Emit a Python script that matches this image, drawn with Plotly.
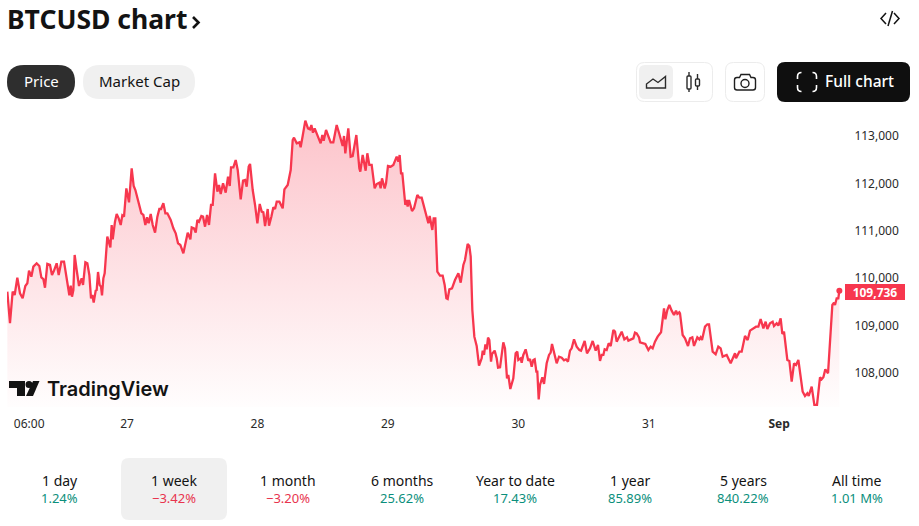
import plotly.graph_objects as go

# Hours since 26 Aug 00:00 and BTCUSD closing prices.
hours = [1.98,2.47,2.96,3.33,3.82,4.31,4.80,5.29,5.66,5.97,6.40,6.77,7.38,7.87,8.24,8.61,8.91,9.34,9.83,10.20,10.57,11.06,11.43,11.92,12.41,12.90,13.39,13.64,13.88,14.13,14.37,14.74,15.17,15.66,15.91,16.34,16.70,17.07,17.38,17.62,17.87,18.24,18.42,18.67,18.97,19.22,19.40,19.65,19.89,20.38,20.75,20.94,21.18,21.37,21.79,22.10,22.47,22.84,23.14,23.45,23.88,24.37,24.86,25.23,25.54,25.90,26.27,26.64,27.01,27.38,27.68,27.99,28.36,28.73,29.16,29.59,29.95,30.26,30.69,31.06,31.43,32.04,32.53,32.96,33.39,33.82,34.37,34.80,35.17,35.66,35.90,36.33,36.64,36.95,37.25,37.68,37.99,38.36,38.73,39.09,39.46,39.77,40.20,40.63,40.93,41.24,41.67,42.16,42.59,42.90,43.14,43.57,44.00,44.37,44.92,45.35,45.72,46.02,46.39,46.64,47.13,47.56,47.99,48.42,48.78,49.09,49.40,49.89,50.13,50.56,50.93,51.24,51.55,52.04,52.65,52.96,53.57,54.12,54.49,54.73,55.23,55.72,
         55.95,56.32,56.81,57.30,57.67,57.92,58.22,58.53,59.20,59.63,59.94,60.19,60.62,61.11,61.47,61.96,62.58,63.07,63.68,63.93,64.17,64.72,65.15,65.52,65.95,66.20,66.75,66.93,67.36,67.91,68.22,68.59,69.02,69.57,69.94,70.43,70.67,70.92,71.41,71.66,72.02,72.51,73.01,73.62,73.93,74.17,74.42,74.66,75.21,75.46,75.64,75.89,76.44,76.81,77.42,77.79,78.22,78.65,79.02,79.45,79.69,80.18,80.43,80.73,81.10,81.59,82.08,82.45,82.76,83.00,83.31,83.80,84.35,84.97,85.40,85.89,86.19,86.68,86.99,87.24,87.54,87.91,88.34,88.77,89.26,89.45,89.69,89.94,90.18,90.43,90.67,90.98,91.16,91.65,92.02,92.27,92.64,
         93.24,93.55,93.92,94.16,94.53,95.08,95.51,95.82,96.00,96.43,96.62,96.92,97.35,97.84,98.15,98.46,98.76,99.01,99.32,99.50,99.75,99.99,100.42,100.73,101.22,101.65,101.95,102.20,102.57,103.06,103.49,103.98,104.41,104.78,105.14,105.51,105.82,106.25,106.74,107.23,107.54,108.21,108.64,109.19,109.68,110.24,110.66,111.03,111.34,111.65,111.89,112.26,112.63,113.00,113.49,113.79,114.10,114.53,115.02,115.51,116.00,116.25,117.17,117.47,117.78,118.21,118.39,119.01,119.37,119.93,120.36,120.72,121.15,121.64,122.26,122.81,123.06,123.42,123.79,124.22,124.65,125.02,125.26,125.63,
         125.75,126.24,126.67,127.22,127.59,128.02,128.33,128.94,129.31,129.55,129.80,130.35,130.78,131.09,131.76,132.31,132.80,133.23,133.60,134.34,135.07,135.87,136.06,136.67,137.10,137.71,138.20,138.63,139.12,139.74,140.17,140.59,141.09,141.51,141.82,142.31,142.80,143.05,143.54,143.85,144.27,144.58,144.89,145.50,145.87,146.30,146.73,147.10,147.53,148.32,148.75,149.18,149.43,149.98,150.47,150.96,151.51,151.82,152.13,152.49,152.99,153.78,154.09,154.27,154.58,154.88,155.07]

prices = [109716,109050,109716,109646,110011,109681,109575,109836,109892,110159,110032,110243,110314,110258,110018,109983,109800,110300,110279,110068,110159,110314,110068,110349,110349,110032,109639,109843,109610,109751,110490,110173,109836,109997,109857,110335,110314,110068,109575,109646,109484,109737,109751,110131,109857,109822,109639,109997,110103,110876,110736,110651,111123,110820,111193,111355,111263,111123,111327,111298,111896,111601,112318,111945,111861,111706,111580,111369,111334,111123,111284,111158,111355,111123,110961,111298,111460,111460,111580,111369,111369,111228,111052,110947,110736,110701,110525,110771,110961,110820,111073,111052,110961,111228,111193,111313,111298,111087,111334,111123,111545,111545,112213,111826,111967,111777,112002,111805,112142,111945,112339,112339,112494,112283,111664,112058,112072,111931,112353,112410,111861,111545,111158,111566,111404,111390,111101,111460,111109,111298,111495,111460,111615,111615,111474,111875,111967,112283,112916,112965,112846,112867,
          112761,113000,113324,113162,113141,113232,113071,113162,112951,112846,113021,112902,113127,112951,112867,112867,113232,113043,112789,113000,112635,113162,112564,112578,112916,113021,112318,112248,112600,112269,112635,112389,112389,111896,111988,112016,111896,112107,111896,112002,112367,112353,112389,112564,112459,112600,112213,112213,111545,111650,111510,111650,111418,111474,111756,111699,111699,111510,111404,111158,111313,111017,111263,111263,110138,110054,110054,109857,109575,109561,109765,109786,109962,110103,109906,110279,110384,110722,110680,110454,109329,108766,108570,108155,108309,108471,108380,108605,108499,108745,108696,108239,108401,108471,108309,108113,108120,
          108647,108520,107887,107958,107662,107887,108415,108450,108274,108309,108218,108380,108499,108260,108295,108133,108274,108288,108028,108028,107444,107747,107908,107768,108204,108380,108429,108612,108450,108204,108344,108323,108267,108288,108239,108471,108520,108710,108555,108485,108471,108675,108415,108520,108675,108471,108591,108253,108380,108380,108499,108485,108626,108569,108907,108872,108661,108752,108872,108710,108752,108682,108731,108851,108837,108752,108647,108626,108612,108485,108555,108520,108661,108766,108858,109364,109132,109329,109435,109315,109224,109315,109245,109280,
          109259,108802,108731,108570,108731,108752,108570,108752,108710,108752,108696,108977,109027,109027,108450,108394,108555,108520,108344,108380,108204,108415,108309,108450,108450,108780,108696,108893,108928,108977,108977,109139,108942,109083,108928,109048,109083,108991,109048,108998,109153,108823,108872,108274,108253,107817,108204,108169,108274,107606,107515,107571,107515,107711,107325,107325,107908,107866,107908,108077,107993,109434,109484,109434,109575,109575,109736]

price_ticks = [108000, 109000, 110000, 111000, 112000, 113000]
time_ticks = [6, 24, 48, 72, 96, 120, 144]
time_labels = ["06:00", "27", "28", "29", "30", "31", "<b>Sep</b>"]
periods = ["1 day", "1 week", "1 month", "6 months", "Year to date", "1 year", "5 years", "All time"]
changes = ["1.24%", "−3.42%", "−3.20%", "25.62%", "17.43%", "85.89%", "840.22%", "1.01 M%"]
period_centers = [60, 174, 288, 402, 515, 630, 743, 857]

RED = "#f7374e"
GREEN = "#0b8f7c"
LOSS = "#e8344e"
INK = "#131313"
FONT = "Noto Sans"

W, H = 919, 526
L, R, T, B = 7, 845, 110, 407


def fx(x):
    return (x - L) / (R - L)


def fy(y):
    return 1 - (y - T) / (B - T)


def path(*cmds):
    """Build a paper-space SVG path from (letter, x, y, ...) pixel commands."""
    out = []
    for c in cmds:
        if c[0] == "Z":
            out.append("Z")
            continue
        nums = []
        for i, v in enumerate(c[1:]):
            nums.append(f"{fx(v) if i % 2 == 0 else fy(v):.5f}")
        out.append(c[0] + " " + " ".join(nums))
    return " ".join(out)


def round_rect(x0, y0, x1, y1, r):
    return path(("M", x0 + r, y0), ("L", x1 - r, y0), ("Q", x1, y0, x1, y0 + r),
                ("L", x1, y1 - r), ("Q", x1, y1, x1 - r, y1), ("L", x0 + r, y1),
                ("Q", x0, y1, x0, y1 - r), ("L", x0, y0 + r), ("Q", x0, y0, x0 + r, y0), ("Z",))


shapes = []


def add_path(d, fill=None, line=None, width=1.5):
    shapes.append(dict(type="path", xref="paper", yref="paper", path=d,
                       fillcolor=fill or "rgba(0,0,0,0)",
                       line=dict(color=line or "rgba(0,0,0,0)", width=width if line else 0),
                       layer="above"))


def add_circle(cx, cy, r, fill=None, line=None, width=1.5):
    shapes.append(dict(type="circle", xref="paper", yref="paper",
                       x0=fx(cx - r), x1=fx(cx + r), y0=fy(cy + r), y1=fy(cy - r),
                       fillcolor=fill or "rgba(0,0,0,0)",
                       line=dict(color=line or "rgba(0,0,0,0)", width=width if line else 0),
                       layer="above"))


annotations = []


def label(x, y, text, size, color=INK, anchor="center", font=FONT):
    annotations.append(dict(xref="paper", yref="paper", x=fx(x), y=fy(y), text=text,
                            showarrow=False, xanchor=anchor, yanchor="middle",
                            font=dict(family=font, size=size, color=color),
                            borderpad=0, borderwidth=0))


# Heading and embed glyph
label(7, 18.5, "<b>BTCUSD chart</b>", 26.5, anchor="left")
add_path(path(("M", 193, 17), ("L", 198.5, 22.5), ("L", 193, 28)), line=INK, width=2.6)
add_path(path(("M", 886, 13), ("L", 881, 18.5), ("L", 886, 24)), line=INK, width=1.5)
add_path(path(("M", 892.5, 11), ("L", 888, 26)), line=INK, width=1.5)
add_path(path(("M", 894, 13), ("L", 899, 18.5), ("L", 894, 24)), line=INK, width=1.5)

# Price / Market Cap pills
add_path(round_rect(7, 65, 75, 99, 17), fill="#2e2e2e")
add_path(round_rect(83, 65, 195, 99, 17), fill="#f0f0f0")
label(41, 81, "Price", 15, color="#ffffff")
label(139, 81, "Market Cap", 15)

# Chart-style switcher
add_path(round_rect(636.5, 62.5, 712.5, 101.5, 8), line="#ececec", width=1)
add_path(round_rect(639, 65, 673, 99, 6), fill="#f0f0f0")
add_path(path(("M", 646.5, 88), ("L", 646.5, 84), ("L", 653, 79), ("L", 658, 82.5),
              ("L", 665.5, 76.5), ("L", 665.5, 88), ("Z",)), line="#2a2a2a", width=1.4)
add_path(path(("M", 689, 72), ("L", 689, 92)), line="#2a2a2a", width=1.4)
add_path(round_rect(687, 76, 691, 89, 1), fill="#ffffff", line="#2a2a2a", width=1.4)
add_path(path(("M", 697.5, 74), ("L", 697.5, 90)), line="#2a2a2a", width=1.4)
add_path(round_rect(695.5, 79, 699.5, 86, 1), fill="#ffffff", line="#2a2a2a", width=1.4)

# Snapshot button
add_path(round_rect(725.5, 62.5, 764.5, 101.5, 8), line="#ececec", width=1)
add_path(path(("M", 737, 77.5), ("L", 739.5, 77.5), ("L", 741, 74.5), ("L", 749.5, 74.5), ("L", 751, 77.5),
              ("L", 753, 77.5), ("Q", 755.5, 77.5, 755.5, 80), ("L", 755.5, 87.5), ("Q", 755.5, 90, 753, 90),
              ("L", 737, 90), ("Q", 734.5, 90, 734.5, 87.5), ("L", 734.5, 80), ("Q", 734.5, 77.5, 737, 77.5), ("Z",)),
         line="#1f1f1f", width=1.4)
add_circle(745, 83.5, 4, line="#1f1f1f", width=1.4)

# Full chart button
add_path(round_rect(777, 62, 910, 102, 8), fill="#0f0f0f")
for sx, sy in [(797.5, 72.5), (816.5, 72.5), (797.5, 91.5), (816.5, 91.5)]:
    dx = 4 if sx < 805 else -4
    dy = 4 if sy < 80 else -4
    add_path(path(("M", sx + dx, sy), ("Q", sx, sy, sx, sy + dy), ("L", sx, sy + dy * 1.6)),
             line="#ffffff", width=1.6)
annotations.append(dict(xref="paper", yref="paper", x=fx(859), y=fy(81), text="Full chart",
                        showarrow=False, xanchor="center", yanchor="middle",
                        font=dict(family=FONT, size=15.5, color="#ffffff", weight=500)))

# Watermark
add_path(path(("M", 9, 381), ("L", 25, 381), ("L", 25, 396), ("L", 17, 396), ("L", 17, 388), ("L", 9, 388), ("Z",)), fill="#131313")
add_circle(29, 384.5, 3.5, fill="#131313")
add_path(path(("M", 33, 381), ("L", 39.5, 381), ("L", 33, 396), ("L", 26, 396), ("Z",)), fill="#131313")
annotations.append(dict(xref="paper", yref="paper", x=fx(45), y=fy(389), text="TradingView",
                        showarrow=False, xanchor="left", yanchor="middle",
                        font=dict(family="Inter", size=20, color="#131313", weight=600)))

# Period selector
add_path(round_rect(121, 458, 227, 520, 8), fill="#f0f0f0")
for name, change, cx in zip(periods, changes, period_centers):
    label(cx, 480, name, 14)
    label(cx, 498, change, 13, color=LOSS if change.startswith("−") else GREEN)

# Last price badge, read from the final close
last_price = prices[-1]
annotations.append(dict(xref="paper", yref="y", x=1, y=last_price, yshift=-1.5,
                        text=f"<b>{last_price:,}</b>", showarrow=False,
                        xanchor="left", yanchor="middle", width=60, height=16, align="center",
                        bgcolor=RED, borderpad=0, borderwidth=0,
                        font=dict(family=FONT, size=12, color="#ffffff")))

fig = go.Figure()
fig.add_trace(go.Scatter(
    x=hours, y=prices, mode="lines",
    line=dict(color=RED, width=2.3),
    fill="tozeroy",
    fillgradient=dict(type="vertical", start=107300, stop=113400,
                      colorscale=[[0, "rgba(247,55,78,0.01)"], [1, "rgba(247,55,78,0.30)"]]),
    hoverinfo="skip",
))
fig.add_trace(go.Scatter(
    x=hours[-1:], y=prices[-1:], mode="markers",
    marker=dict(color=RED, size=6), hoverinfo="skip",
))

fig.update_layout(
    width=W, height=H, autosize=False, showlegend=False,
    margin=dict(l=L, r=W - R, t=T, b=H - B),
    paper_bgcolor="#ffffff", plot_bgcolor="#ffffff",
    font=dict(family=FONT, size=12, color=INK),
    shapes=shapes, annotations=annotations,
    xaxis=dict(range=[1.92, 156.11], tickmode="array", tickvals=time_ticks, ticktext=time_labels,
               showgrid=False, zeroline=False, showline=False,
               ticks="outside", ticklen=6, tickcolor="rgba(0,0,0,0)",
               tickfont=dict(family=FONT, size=12, color="#2a2a2a")),
    yaxis=dict(range=[107282, 113549], side="right", tickmode="array", tickvals=price_ticks,
               tickformat=",d", showgrid=False, zeroline=False, showline=False,
               ticks="outside", ticklen=6, tickcolor="rgba(0,0,0,0)",
               tickfont=dict(family=FONT, size=12, color="#2a2a2a")),
)

fig.write_html("out.html", config=dict(displayModeBar=False, responsive=False))
